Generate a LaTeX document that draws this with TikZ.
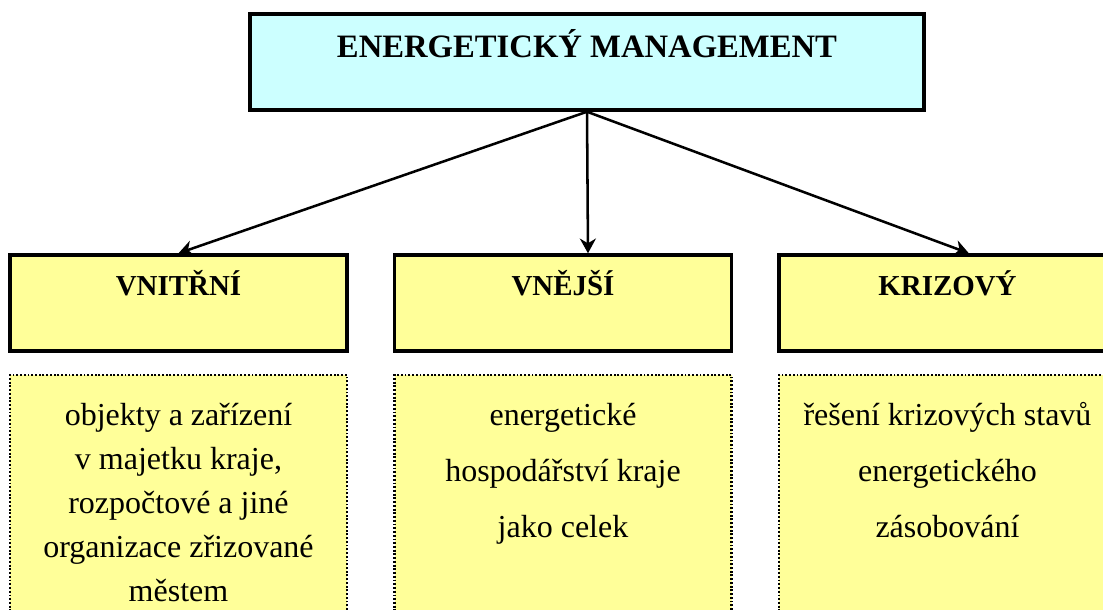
\documentclass[tikz,border=0pt]{standalone}
\usepackage{fontspec}
\setmainfont{Liberation Serif}
\usetikzlibrary{arrows.meta, positioning, calc}
\definecolor{emcyan}{HTML}{CCFFFF}
\definecolor{emyellow}{HTML}{FFFF99}

\tikzset{
  mainbox/.style={draw=black, line width=2.6pt, fill=emcyan, inner sep=0pt, minimum width=505.5pt, text height=33pt, text depth=39pt, font=\fontsize{24.5}{28}\selectfont\bfseries},
  kindbox/.style={draw=black, line width=2.6pt, fill=emyellow, inner sep=0pt, minimum width=252.75pt, text height=30pt, text depth=42pt, font=\fontsize{21.7}{26}\selectfont\bfseries},
  notebox/.style={draw=black, line width=2pt, dash pattern=on 1.4pt off 1.4pt, fill=emyellow, inner sep=0pt, text width=252.75pt, align=flush center, text height=37.5pt, text depth=168.75pt},
  branch/.style={-{Stealth[length=11pt, width=12pt, inset=3.5pt]}, line width=1.9pt}
}

\begin{document}
\begin{tikzpicture}[x=0.75pt, y=-0.75pt]
    \useasboundingbox (0,0) rectangle (1103,610);

    % Main box
    \node[mainbox] (em) at (587,62) {ENERGETICKÝ MANAGEMENT};

    % Kinds
    \node[kindbox] (vnitrni) at (178.5,303) {VNITŘNÍ};
    \node[kindbox] (vnejsi) at (563,303) {VNĚJŠÍ};
    \node[kindbox] (krizovy) at (947.5,303) {KRIZOVÝ};

    % Descriptions
    \node[notebox, font=\fontsize{24}{33}\selectfont] (vnitrni-note) at (178.5,512.5)
        {objekty a zařízení\\ v majetku kraje,\\ rozpočtové a jiné\\ organizace zřizované\\ městem};
    \node[notebox, font=\fontsize{24}{42}\selectfont] (vnejsi-note) at (563,512.5)
        {energetické\\ hospodářství kraje\\ jako celek};
    \node[notebox, font=\fontsize{24}{42}\selectfont] (krizovy-note) at (947.5,512.5)
        {řešení krizových stavů\\ energetického\\ zásobování};

    % Arrows
    \draw[branch] (em.south) -- (vnitrni.north);
    \draw[branch] (em.south) -- ([xshift=18.75pt]vnejsi.north);
    \draw[branch] (em.south) -- ([xshift=16pt]krizovy.north);
\end{tikzpicture}
\end{document}
